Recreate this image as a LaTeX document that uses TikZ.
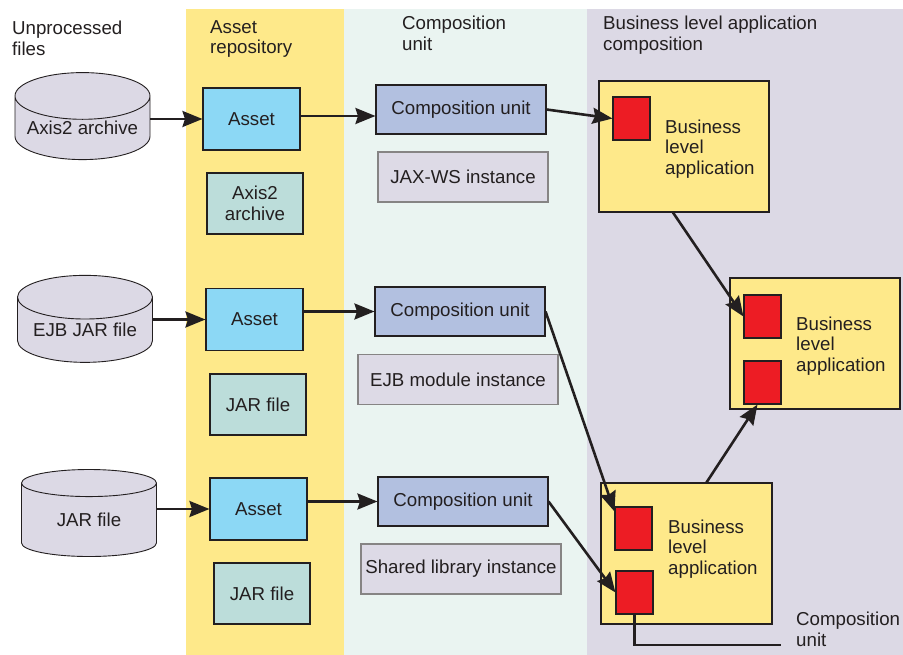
\documentclass[tikz,border=0pt]{standalone}
\usepackage{fontspec}
\setmainfont{Liberation Sans}
\usetikzlibrary{shapes.geometric,arrows.meta,positioning,calc}
\definecolor{ink}{RGB}{35,31,32}
\definecolor{repoband}{RGB}{254,233,138}
\definecolor{unitband}{RGB}{234,244,241}
\definecolor{blaband}{RGB}{220,217,229}
\definecolor{storefill}{RGB}{220,217,229}
\definecolor{assetblue}{RGB}{140,216,245}
\definecolor{archteal}{RGB}{188,221,218}
\definecolor{cublue}{RGB}{178,192,224}
\definecolor{instgray}{RGB}{221,218,230}
\definecolor{blayellow}{RGB}{254,233,138}
\definecolor{partred}{RGB}{237,28,36}

\begin{document}
\begin{tikzpicture}[x=1pt, y=-1pt,
    every node/.style={font=\fontsize{18.7}{20.5}\selectfont, text=ink, inner sep=0pt},
    box/.style={draw=ink, line width=1.1pt},
    store/.style={cylinder, shape border rotate=90, aspect=0.42, draw=ink, line width=0.9pt,
        fill=storefill, minimum width=135pt, minimum height=87pt},
    asset/.style={box, fill=assetblue, minimum width=97pt, minimum height=62pt},
    archive/.style={box, fill=archteal, minimum width=96pt, minimum height=61pt, align=center},
    cunit/.style={box, fill=cublue, minimum width=170pt, minimum height=49pt},
    instance/.style={box, draw=ink!55, fill=instgray, minimum height=50pt},
    bla/.style={box, fill=blayellow, minimum width=170pt, minimum height=131pt},
    part/.style={box, fill=partred, minimum width=37pt, minimum height=43pt},
    heading/.style={anchor=north west, align=left},
    arrow/.style={-{Stealth[length=20pt, width=16pt, inset=2.5pt]}, line width=2.6pt, draw=ink},
]

\useasboundingbox (0,0) rectangle (903,655);

% Bands
\fill[white] (0,0) rectangle (903,655);
\fill[repoband] (186,9) rectangle (344,655);
\fill[unitband] (344,9) rectangle (587,655);
\fill[blaband] (587,9) rectangle (903,655);

% Headings
\node[heading] (hfiles) at (12,21) {Unprocessed\\files};
\node[heading] (hrepo) at (210,20) {Asset\\repository};
\node[heading] (hunit) at (402,16) {Composition\\unit};
\node[heading] (hbla) at (603,16) {Business level application\\composition};

% Axis2 row
\node[store] (axis) at (82.5,128) {Axis2 archive};
\node[asset] (asset1) at (251.5,119) {Asset};
\node[archive] (arch1) at (255,203.5) {Axis2\\archive};
\node[cunit] (cu1) at (461,109.5) {Composition unit};
\node[instance, minimum width=170pt] (inst1) at (463,177) {JAX-WS instance};

% EJB row
\node[store] (ejb) at (85,330) {EJB JAR file};
\node[asset] (asset2) at (254.5,319.5) {Asset};
\node[archive] (arch2) at (258,404.5) {JAR file};
\node[cunit] (cu2) at (460,311.5) {Composition unit};
\node[instance, minimum width=200pt] (inst2) at (458,379.5) {EJB module instance};

% JAR row
\node[store] (jar) at (89,520) {JAR file};
\node[asset] (asset3) at (258.5,509) {Asset};
\node[archive] (arch3) at (262,593.5) {JAR file};
\node[cunit] (cu3) at (463,501.5) {Composition unit};
\node[instance, minimum width=200pt] (inst3) at (461,569) {Shared library instance};

% Business level applications
\node[bla] (bla1) at (684,146.5) {};
\node[part] (p1) at (631.5,118.5) {};
\node[anchor=west, align=left] (bla1txt) at (665,149) {Business\\level\\application};

\node[bla] (bla2) at (815,343.5) {};
\node[part] (p2a) at (762.5,316.5) {};
\node[part] (p2b) at (762.5,382.5) {};
\node[anchor=west, align=left] (bla2txt) at (796,346) {Business\\level\\application};

\node[bla, minimum width=171pt, minimum height=141pt] (bla3) at (686.5,553.5) {};
\node[part] (p3a) at (633.5,528.5) {};
\node[part] (p3b) at (634.5,592.5) {};
\node[anchor=west, align=left] (bla3txt) at (668,549) {Business\\level\\application};

\node[heading] (culabel) at (796,612) {Composition\\unit};
\coordinate (cuend) at (781,645);

% Connectors
\draw[arrow] (axis.east |- asset1.west) -- (asset1.west);
\draw[arrow] (ejb.east |- asset2.west) -- (asset2.west);
\draw[arrow] (jar.east |- asset3.west) -- (asset3.west);

\draw[arrow] ([yshift=3pt]asset1.east) -- ([yshift=3pt]asset1.east -| cu1.west);
\draw[arrow] (asset2.east |- cu2.west) -- (cu2.west);
\draw[arrow] (asset3.east |- cu3.west) -- (cu3.west);

\draw[arrow] (cu1.east) -- (p1.west);
\draw[arrow] (cu2.east) -- ([yshift=-5pt]p3a.north west);
\draw[arrow] (cu3.east) -- (p3b.west);
\draw[arrow] ([xshift=-11pt]bla1.south) -- (p2a.west);
\draw[arrow] ([xshift=20pt]bla3.north) -- ([xshift=-5pt]p2b.south);
\draw[line width=2.6pt, draw=ink] (p3b.south) |- (cuend);

\end{tikzpicture}
\end{document}
